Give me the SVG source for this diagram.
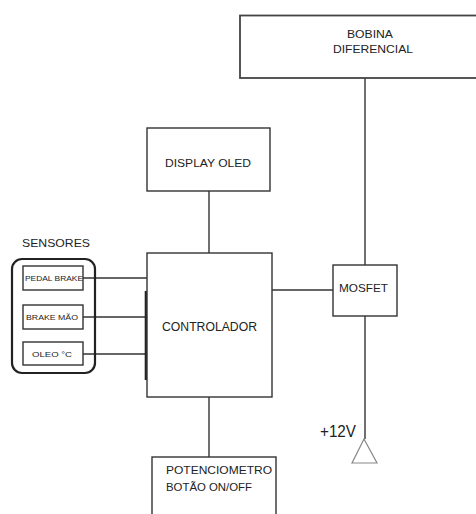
<svg xmlns="http://www.w3.org/2000/svg" width="476" height="514" viewBox="0 0 476 514">
<style>
.box{fill:#fff;stroke:#333;stroke-width:1.4}
.ln{fill:none;stroke:#333;stroke-width:1.4}
.t{font-family:"Liberation Sans",Arial,sans-serif;fill:#222}
</style>
<rect width="476" height="514" fill="#fff"/>
<g id="connectors">
<line class="ln" x1="365" y1="78" x2="365" y2="265"/>
<line class="ln" x1="365" y1="316" x2="365" y2="439"/>
<line class="ln" x1="209" y1="191" x2="209" y2="253"/>
<line class="ln" x1="209" y1="397" x2="209" y2="457"/>
<line class="ln" x1="272" y1="290" x2="333" y2="290"/>
<line class="ln" x1="83" y1="278" x2="147" y2="278"/>
<line class="ln" x1="83" y1="317" x2="147" y2="317"/>
<line class="ln" x1="83" y1="354" x2="147" y2="354"/>
<line x1="146" y1="291" x2="146" y2="380" stroke="#222" stroke-width="2.6"/>
</g>
<g id="bobina">
<rect class="box" x="240" y="15.5" width="250" height="62.5" style="stroke:#444;stroke-width:1.8"/>
<text class="t" x="370" y="38" font-size="10.5" text-anchor="middle" textLength="46" lengthAdjust="spacingAndGlyphs">BOBINA</text>
<text class="t" x="373" y="53" font-size="10.5" text-anchor="middle" textLength="80" lengthAdjust="spacingAndGlyphs">DIFERENCIAL</text>
</g>
<g id="display">
<rect class="box" x="147" y="128" width="123" height="63"/>
<text class="t" x="165" y="167" font-size="11" textLength="86" lengthAdjust="spacingAndGlyphs">DISPLAY OLED</text>
</g>
<g id="controlador">
<rect class="box" x="147" y="253" width="125" height="144"/>
<text class="t" x="162" y="331" font-size="12" textLength="95" lengthAdjust="spacingAndGlyphs">CONTROLADOR</text>
</g>
<g id="mosfet">
<rect class="box" x="333" y="265" width="64" height="51"/>
<text class="t" x="339" y="292" font-size="11" textLength="49" lengthAdjust="spacingAndGlyphs">MOSFET</text>
</g>
<g id="sensores">
<text class="t" x="22" y="247" font-size="10.5" textLength="68" lengthAdjust="spacingAndGlyphs">SENSORES</text>
<rect x="12" y="259" width="83" height="114" rx="10" ry="10" fill="none" stroke="#222" stroke-width="2.2"/>
</g>
<g id="pedal-brake">
<rect class="box" x="23" y="266" width="60" height="24"/>
<text class="t" x="25" y="281" font-size="8" textLength="58" lengthAdjust="spacingAndGlyphs">PEDAL BRAKE</text>
</g>
<g id="brake-mao">
<rect class="box" x="23" y="305" width="60" height="24"/>
<text class="t" x="26" y="320" font-size="8" textLength="52" lengthAdjust="spacingAndGlyphs">BRAKE MÃO</text>
</g>
<g id="oleo">
<rect class="box" x="23" y="342" width="60" height="23"/>
<text class="t" x="32" y="357" font-size="7.5" textLength="40" lengthAdjust="spacingAndGlyphs">OLEO °C</text>
</g>
<g id="v12">
<polygon points="364,439 352,463 377,463" fill="#fff" stroke="#888" stroke-width="1.2"/>
<text class="t" x="320" y="437" font-size="16" textLength="36" lengthAdjust="spacingAndGlyphs">+12V</text>
</g>
<g id="potenciometro">
<rect class="box" x="152" y="457" width="124" height="70"/>
<text class="t" x="166" y="474" font-size="10.5" textLength="106" lengthAdjust="spacingAndGlyphs">POTENCIOMETRO</text>
<text class="t" x="166" y="491" font-size="10.5" textLength="86" lengthAdjust="spacingAndGlyphs">BOTÃO ON/OFF</text>
</g>
</svg>
